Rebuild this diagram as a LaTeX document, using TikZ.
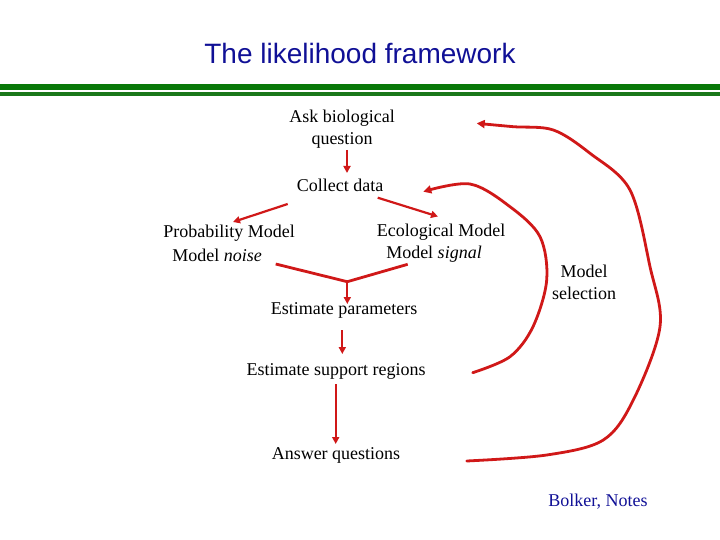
\documentclass[tikz,border=0pt]{standalone}
\usepackage{fontspec}
\setmainfont{Liberation Serif}
\newfontfamily\arialfont{Liberation Sans}
\usetikzlibrary{arrows.meta}
\definecolor{arrowred}{RGB}{208,24,24}
\definecolor{titleblue}{RGB}{16,16,150}
\definecolor{gbarA}{RGB}{8,120,8}
\definecolor{gbarB}{RGB}{26,120,26}
\tikzset{
  lbl/.style={font=\fontsize{18}{22}\selectfont, inner sep=0pt, anchor=center},
  redarrow/.style={draw=arrowred, line width=2.2pt, -{Triangle[length=7pt,width=7pt]}},
  redline/.style={draw=arrowred, line width=2.8pt},
  curvearrow/.style={draw=arrowred, line width=2.8pt, line cap=round, line join=round, -{Triangle[length=8pt,width=8pt]}},
}
\begin{document}
\begin{tikzpicture}[x=1pt,y=-1pt]
\useasboundingbox (0,0) rectangle (720,540);
% title
\node[font=\arialfont\fontsize{28}{32}\selectfont, text=titleblue, inner sep=0pt] (title) at (360,53) {The likelihood framework};
% green bars
\fill[gbarA] (0,84) rectangle (720,90);
\fill[gbarB] (0,92.5) rectangle (720,96.5);
% text nodes
\node[lbl, align=center] (ask) at (342,129.5) {Ask biological\\question};
\node[lbl] (collect) at (340,185) {Collect data};
\node[lbl] (prob1) at (229,233.5) {Probability Model};
\node[lbl] (prob2) at (217,255.5) {Model \textit{noise}};
\node[lbl] (eco1) at (441,232.5) {Ecological Model};
\node[lbl] (eco2) at (434,254.5) {Model \textit{signal}};
\node[lbl] (est) at (344,310.5) {Estimate parameters};
\node[lbl] (supp) at (336,371.5) {Estimate support regions};
\node[lbl] (ans) at (336,455.5) {Answer questions};
\node[lbl, align=center] (msel) at (584,282.5) {Model\\selection};
\node[font=\fontsize{18}{22}\selectfont, text=titleblue, inner sep=0pt] (bolker) at (598,502) {Bolker, Notes};
% straight arrows
\coordinate (a1) at (347,150); \coordinate (a2) at (347,173);
\draw[redarrow] (a1) -- (a2);
\coordinate (c1) at (287.7,204); \coordinate (c2) at (233,222);
\draw[redarrow] (c1) -- (c2);
\coordinate (c3) at (377.7,197.7); \coordinate (c4) at (438,216.5);
\draw[redarrow] (c3) -- (c4);
\coordinate (v1) at (275.7,264); \coordinate (v2) at (407.7,264.3); \coordinate (vb) at (347.3,281.7);
\draw[redline, line join=miter] (v1) -- (vb) -- (v2);
\coordinate (v3) at (347.3,304);
\draw[redarrow] (vb) -- (v3);
\coordinate (e1) at (342.3,330); \coordinate (e2) at (342.3,354);
\draw[redarrow] (e1) -- (e2);
\coordinate (s1) at (335.7,384); \coordinate (s2) at (335.7,444);
\draw[redarrow] (s1) -- (s2);
% curved arrows (model selection loops)
\coordinate (inS) at (472.7,372.7);
\coordinate (inE) at (423.3,191.7);
\draw[curvearrow] plot[smooth, tension=0.55] coordinates {(inS) (510,356.7) (533,326.7) (546.7,280) (540,236.7) (510,206.7) (470,184) (inE)};
\coordinate (outS) at (466.7,461);
\coordinate (outE) at (476.7,123.3);
\draw[curvearrow] plot[smooth, tension=0.55] coordinates {(outS) (546.7,455) (603.3,440) (633.3,400) (660,326.7) (650,266.7) (630,190) (590,153.3) (553.3,130) (513.3,126.7) (outE)};
\end{tikzpicture}
\end{document}
